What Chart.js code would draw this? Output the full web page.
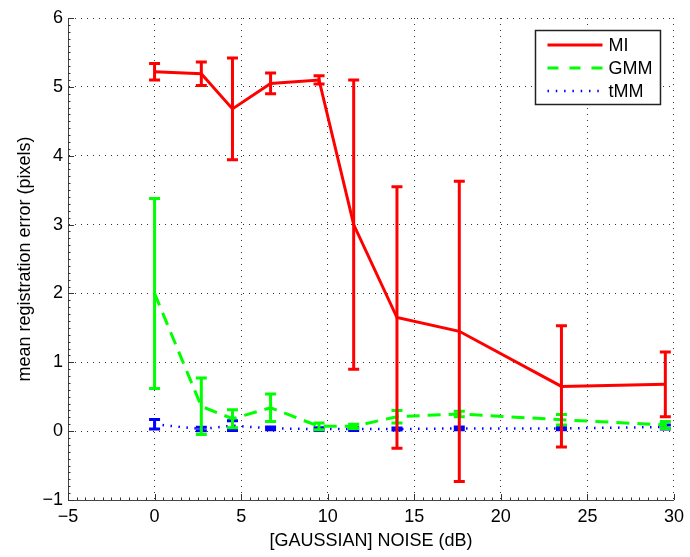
<!DOCTYPE html>
<html>
<head>
<meta charset="utf-8">
<script src="https://cdn.jsdelivr.net/npm/chart.js@4.4.0/dist/chart.umd.min.js"></script>
<style>
  html, body { margin: 0; padding: 0; background: #fff; }
  #wrap { width: 690px; height: 557px; }
</style>
</head>
<body>
<div id="wrap"><canvas id="c" width="690" height="557"></canvas></div>
<script>
// Noise levels (dB) at which each method was evaluated
const noiseDb = [0, 2.7, 4.5, 6.7, 9.5, 11.5, 14, 17.6, 23.5, 29.5];

// Mean registration error (pixels) and half-width of the error bar
const miMean  = [5.22, 5.19, 4.68, 5.05, 5.10, 3.00, 1.65, 1.45, 0.65, 0.68];
const miErr   = [0.12, 0.17, 0.74, 0.15, 0.06, 2.10, 1.90, 2.18, 0.88, 0.47];

const gmmMean = [2.00, 0.36, 0.18, 0.34, 0.07, 0.07, 0.21, 0.25, 0.165, 0.09];
const gmmErr  = [1.38, 0.41, 0.13, 0.20, 0.05, 0.03, 0.09, 0.04, 0.075, 0.05];

const tmmMean = [0.10, 0.03, 0.08, 0.04, 0.03, 0.03, 0.03, 0.04, 0.04, 0.06];
const tmmErr  = [0.07, 0.025, 0.07, 0.02, 0.02, 0.02, 0.015, 0.02, 0.02, 0.03];

// Axis ranges and tick labels
const xRange = [-5, 30];
const yRange = [-1, 6];
const xTickStep = 5;
const yTickStep = 1;

const seriesNames = ['MI', 'GMM', 'tMM'];

const FONT = '"Liberation Sans", Arial, Helvetica, sans-serif';
const FONT_SIZE = 18;

function pts(means) {
  return noiseDb.map((x, i) => ({ x: x, y: means[i] }));
}

// Tick labels with a typographic minus sign
function tickText(v) {
  return String(v).replace('-', '\u2212');
}

// Vertical error bars with caps, drawn right after each dataset's line
const errorBarPlugin = {
  id: 'errorBars',
  afterDatasetDraw(chart, args) {
    const ds = chart.data.datasets[args.index];
    if (!ds.errors) return;
    const { ctx } = chart;
    const xs = chart.scales.x, ys = chart.scales.y;
    const capHalf = 5.5;
    ctx.save();
    ctx.strokeStyle = ds.borderColor;
    ctx.lineWidth = ds.errorWidth || 3;
    ctx.setLineDash([]);
    ctx.lineCap = 'butt';
    ds.data.forEach((p, i) => {
      const e = ds.errors[i];
      const px = xs.getPixelForValue(p.x);
      const top = ys.getPixelForValue(p.y + e);
      const bot = ys.getPixelForValue(p.y - e);
      ctx.beginPath();
      ctx.moveTo(px, top); ctx.lineTo(px, bot);
      ctx.moveTo(px - capHalf, top); ctx.lineTo(px + capHalf, top);
      ctx.moveTo(px - capHalf, bot); ctx.lineTo(px + capHalf, bot);
      ctx.stroke();
    });
    ctx.restore();
  }
};

// Inward major and minor tick marks on the left and bottom axes
const innerTicksPlugin = {
  id: 'innerTicks',
  afterDraw(chart) {
    const { ctx, chartArea: a } = chart;
    const xs = chart.scales.x, ys = chart.scales.y;
    ctx.save();
    ctx.strokeStyle = '#333';
    ctx.lineWidth = 1;
    ctx.setLineDash([]);
    ctx.beginPath();
    const xMinorStep = xTickStep / 10;
    const xn = Math.round((xRange[1] - xRange[0]) / xMinorStep);
    for (let k = 0; k <= xn; k++) {
      const v = xRange[0] + k * xMinorStep;
      const px = Math.round(xs.getPixelForValue(v)) + 0.5;
      const len = (k % 10 === 0) ? 6 : 2.5;
      ctx.moveTo(px, a.bottom); ctx.lineTo(px, a.bottom - len);
    }
    const yMinorStep = yTickStep / 10;
    const yn = Math.round((yRange[1] - yRange[0]) / yMinorStep);
    for (let k = 0; k <= yn; k++) {
      const v = yRange[0] + k * yMinorStep;
      const py = Math.round(ys.getPixelForValue(v)) + 0.5;
      const len = (k % 10 === 0) ? 6 : 2.5;
      ctx.moveTo(a.left, py); ctx.lineTo(a.left + len, py);
    }
    ctx.stroke();
    ctx.restore();
  }
};

// Boxed legend in the upper right corner of the plot area
const boxLegendPlugin = {
  id: 'boxLegend',
  afterDraw(chart) {
    const { ctx, chartArea: a } = chart;
    const w = 125, h = 74;
    const x0 = a.right - 14 - w + 0.5;
    const y0 = a.top + 12 + 0.5;
    ctx.save();
    ctx.fillStyle = '#fff';
    ctx.fillRect(x0, y0, w, h);
    ctx.strokeStyle = '#222';
    ctx.lineWidth = 1.5;
    ctx.setLineDash([]);
    ctx.strokeRect(x0, y0, w, h);
    ctx.font = FONT_SIZE + 'px ' + FONT;
    ctx.textBaseline = 'middle';
    ctx.fillStyle = '#000';
    chart.data.datasets.forEach((ds, i) => {
      const ly = y0 + 14.5 + i * 23;
      ctx.strokeStyle = ds.borderColor;
      ctx.lineWidth = ds.borderWidth;
      ctx.setLineDash(ds.legendDash || []);
      ctx.lineCap = 'butt';
      ctx.beginPath();
      ctx.moveTo(x0 + 12, ly);
      ctx.lineTo(x0 + 67, ly);
      ctx.stroke();
      ctx.fillText(ds.label, x0 + 73, ly + 1);
    });
    ctx.restore();
  }
};

const gridStyle = {
  color: '#333',
  lineWidth: 1,
  drawTicks: false
};

new Chart(document.getElementById('c'), {
  type: 'line',
  data: {
    datasets: [
      {
        label: seriesNames[0],
        data: pts(miMean),
        errors: miErr,
        borderColor: '#ff0000',
        borderWidth: 3,
        errorWidth: 3,
        legendDash: [],
        pointRadius: 0,
        tension: 0,
        fill: false
      },
      {
        label: seriesNames[1],
        data: pts(gmmMean),
        errors: gmmErr,
        borderColor: '#00ff00',
        borderWidth: 3,
        errorWidth: 3,
        borderDash: [13, 8],
        legendDash: [11, 11],
        pointRadius: 0,
        tension: 0,
        fill: false
      },
      {
        label: seriesNames[2],
        data: pts(tmmMean),
        errors: tmmErr,
        borderColor: '#0000ff',
        borderWidth: 2.5,
        errorWidth: 3,
        borderDash: [1.5, 6.5],
        legendDash: [1.5, 6.8],
        pointRadius: 0,
        tension: 0,
        fill: false
      }
    ]
  },
  options: {
    responsive: false,
    animation: false,
    devicePixelRatio: 1,
    layout: { padding: { top: 18, right: 13, left: 0, bottom: 0 } },
    plugins: {
      legend: { display: false },
      tooltip: { enabled: false }
    },
    scales: {
      x: {
        type: 'linear',
        min: xRange[0],
        max: xRange[1],
        ticks: {
          stepSize: xTickStep,
          color: '#000',
          font: { family: FONT, size: FONT_SIZE },
          padding: 6,
          maxRotation: 0,
          callback: tickText
        },
        grid: gridStyle,
        border: { display: true, color: '#444', width: 1, dash: [1, 5] },
        title: {
          display: true,
          text: '[GAUSSIAN] NOISE (dB)',
          color: '#000',
          font: { family: FONT, size: FONT_SIZE },
          padding: { top: 0, bottom: 5 }
        },
        afterFit(s) { s.height = 57; }
      },
      y: {
        type: 'linear',
        min: yRange[0],
        max: yRange[1],
        ticks: {
          stepSize: yTickStep,
          color: '#000',
          font: { family: FONT, size: FONT_SIZE },
          padding: 5,
          callback: tickText
        },
        grid: gridStyle,
        border: { display: true, color: '#444', width: 1, dash: [1, 5] },
        title: {
          display: true,
          text: 'mean registration error (pixels)',
          color: '#000',
          font: { family: FONT, size: FONT_SIZE },
          padding: { top: 14, bottom: 0 }
        },
        afterFit(s) { s.width = 68; }
      }
    }
  },
  plugins: [errorBarPlugin, innerTicksPlugin, boxLegendPlugin]
});
</script>
</body>
</html>
